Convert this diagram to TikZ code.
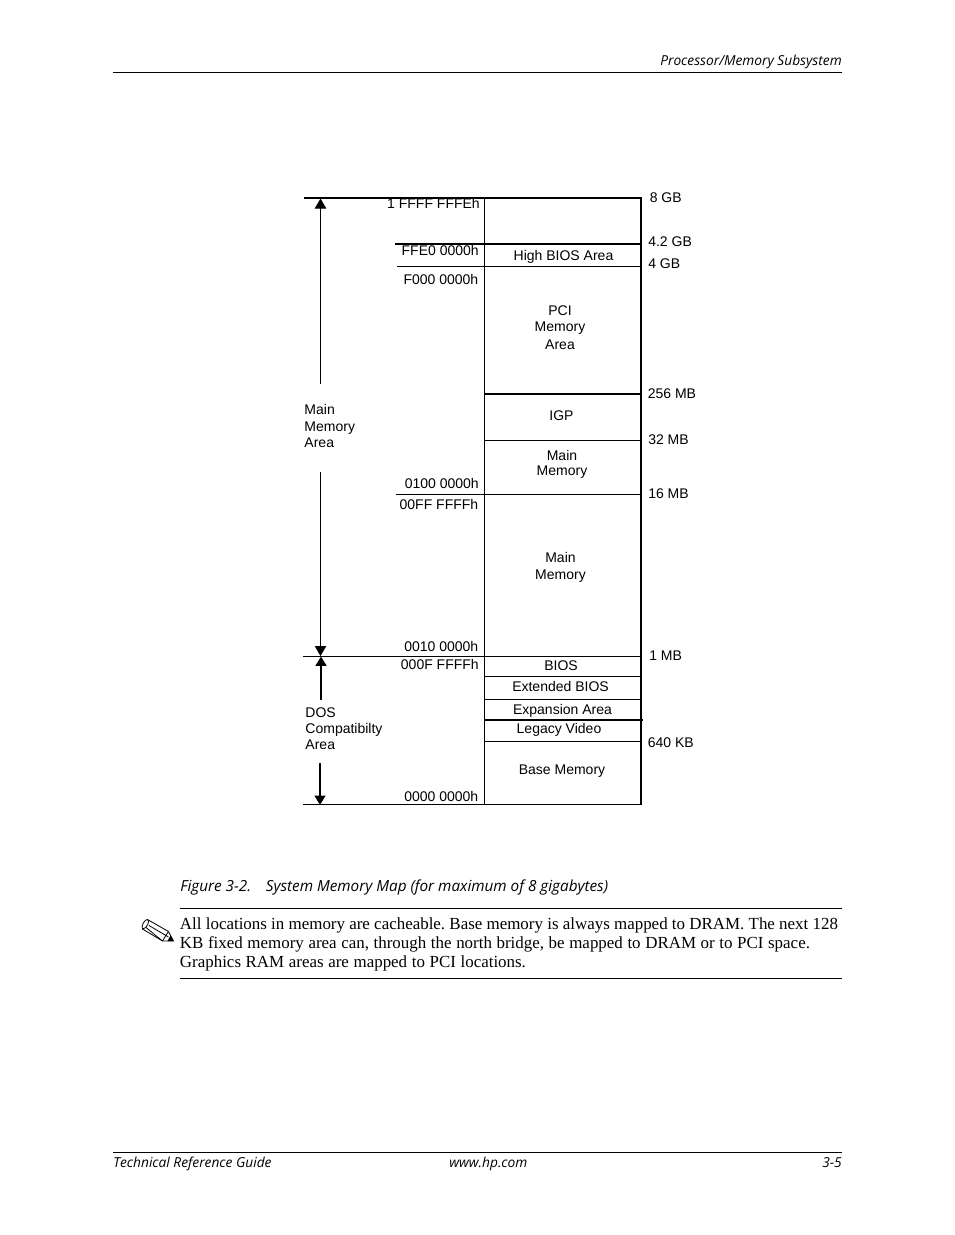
\documentclass[tikz,border=0pt]{standalone}
\usepackage{fontspec}
\setmainfont{Liberation Serif}
\setsansfont{Liberation Sans}
\newfontfamily\pagefont{Open Sans}
\usetikzlibrary{arrows.meta}
\begin{document}
\begin{tikzpicture}[x=0.75pt,y=-0.75pt,
  thinline/.style={line width=0.75pt,black},
  thickline/.style={line width=1.3pt,black},
  frameline/.style={line width=1.5pt,black},
  rule/.style={line width=0.7pt,black},
  pencil/.style={line width=0.6pt,black,line join=round},
  lab/.style={font=\sffamily\fontsize{10.5}{12}\selectfont,inner sep=0pt,align=center},
  lableft/.style={font=\sffamily\fontsize{10.5}{12}\selectfont,inner sep=0pt,align=left,anchor=west},
  addr/.style={font=\sffamily\fontsize{10.5}{12}\selectfont,inner sep=0pt,anchor=base east},
  size/.style={font=\sffamily\fontsize{10.5}{12}\selectfont,inner sep=0pt,anchor=base west},
  pagetext/.style={font=\pagefont\itshape\fontsize{10.3}{12}\selectfont,inner sep=0pt,anchor=base west},
  bodytext/.style={font=\rmfamily\fontsize{12.7}{14.3}\selectfont,inner sep=0pt,anchor=north west,align=left},
  thinarrow/.style={line width=0.75pt,-{Triangle[length=7.5pt,width=8.5pt]}},
  thickarrow/.style={line width=1.5pt,-{Triangle[length=7pt,width=8pt]}}]
\useasboundingbox (0,0) rectangle (954,1235);
\fill[white] (0,0) rectangle (954,1235);

% page furniture
\coordinate (hl) at (113,72); \coordinate (hr) at (842,72);
\coordinate (fl) at (113,1152); \coordinate (fr) at (842,1152);
\coordinate (c1l) at (180,908.5); \coordinate (c1r) at (842,908.5);
\coordinate (c2l) at (180,978.5); \coordinate (c2r) at (842,978.5);
\draw[rule] (hl) -- (hr);
\draw[rule] (fl) -- (fr);
\draw[rule] (c1l) -- (c1r);
\draw[rule] (c2l) -- (c2r);
\node[pagetext,anchor=base east] (header) at (842,65) {Processor/Memory Subsystem};
\node[pagetext] (footl) at (113,1167) {Technical Reference Guide};
\node[pagetext] (footm) at (449,1167) {www.hp.com};
\node[pagetext,anchor=base east] (footr) at (842,1167) {3-5};
\node[pagetext,font=\pagefont\itshape\fontsize{11.45}{13}\selectfont] (caption) at (180,891) {Figure 3-2.\hspace{11pt}System Memory Map (for maximum of 8 gigabytes)};
% note pencil
\draw[pencil] (147.5,919.5) -- (168.5,931.5) -- (173.5,941) -- (162.5,941) -- (142.5,929)
  .. controls (140.5,926) and (145,919) .. (147.5,919.5) -- cycle;
\draw[pencil] (147.5,919.5) .. controls (150.5,921) and (146.5,929) .. (142.5,929);
\draw[pencil] (149,925.5) -- (168.5,937) (146,927.5) -- (162.5,941) (168.5,931.5) -- (162.5,941);
\fill[black] (170.5,935.5) -- (173.5,941) -- (167.5,941) -- cycle;
\node[bodytext] (note) at (179.7,917.5) {\frenchspacing\makebox[493.5pt][s]{All locations in memory are cacheable. Base memory is always mapped to DRAM. The next 128}\\
\frenchspacing\makebox[472.5pt][s]{KB fixed memory area can, through the north bridge, be mapped to DRAM or to PCI space.}\\
\frenchspacing\makebox[259.5pt][s]{Graphics RAM areas are mapped to PCI locations.}};

% frame
\coordinate (midtop) at (484.5,197); \coordinate (midbot) at (484.5,804);
\coordinate (rtop) at (640.7,197); \coordinate (rbot) at (640.7,804.5);
\draw[thinline] (midtop) -- (midbot);
\draw[frameline] (rtop) -- (rbot);

% horizontal boundaries
\coordinate (a1) at (304,197.6); \coordinate (a2) at (641,197.6);
\coordinate (b1) at (395,243.7); \coordinate (b2) at (642,243.7);
\coordinate (c1) at (397,266.5); \coordinate (c2) at (641,266.5);
\coordinate (d1) at (484,394); \coordinate (d2) at (642,394);
\coordinate (e1) at (484,440.5); \coordinate (e2) at (640,440.5);
\coordinate (f1) at (396,494.5); \coordinate (f2) at (640,494.5);
\coordinate (g1) at (303,656.5); \coordinate (g2) at (642,656.5);
\coordinate (h1) at (484,676.5); \coordinate (h2) at (642,676.5);
\coordinate (i1) at (484,699.5); \coordinate (i2) at (640,699.5);
\coordinate (j1) at (484,720); \coordinate (j2) at (643,720);
\coordinate (k1) at (484,741.5); \coordinate (k2) at (640,741.5);
\coordinate (l1) at (303,804.3); \coordinate (l2) at (642,804.3);
\draw[frameline] (a1) -- (a2);
\draw[thickline] (b1) -- (b2);
\draw[thinline] (c1) -- (c2);
\draw[thickline] (d1) -- (d2);
\draw[thinline] (e1) -- (e2);
\draw[thinline] (f1) -- (f2);
\draw[thinline] (g1) -- (g2);
\draw[thinline] (h1) -- (h2);
\draw[thinline] (i1) -- (i2);
\draw[thickline] (j1) -- (j2);
\draw[thinline] (k1) -- (k2);
\draw[thinline] (l1) -- (l2);

% left side labels and arrows
\node[lableft] (mainarea) at (304.2,426) {Main\\[0.4pt]Memory\\[0.2pt]Area};
\node[lableft] (dosarea) at (305.2,729) {DOS\\Compatibilty\\Area};
\coordinate (u1) at (320.5,384); \coordinate (u2) at (320.5,198.5);
\coordinate (v1) at (320.5,472); \coordinate (v2) at (320.5,656);
\coordinate (w1) at (321,700); \coordinate (w2) at (321,656.5);
\coordinate (z1) at (320,763); \coordinate (z2) at (320,805);
\draw[thinarrow] (u1) -- (u2);
\draw[thinarrow] (v1) -- (v2);
\draw[thickarrow] (w1) -- (w2);
\draw[thickarrow] (z1) -- (z2);

% addresses
\node[addr] (ad1) at (480,208) {1 FFFF FFFEh};
\node[addr] (ad2) at (479,255) {FFE0 0000h};
\node[addr] (ad3) at (478.5,284) {F000 0000h};
\node[addr] (ad4) at (479,488) {0100 0000h};
\node[addr] (ad5) at (478.5,509) {00FF FFFFh};
\node[addr] (ad6) at (478.5,651) {0010 0000h};
\node[addr] (ad7) at (479,669) {000F FFFFh};
\node[addr] (ad8) at (478.5,801) {0000 0000h};

% regions
\node[lab] (r1) at (563.5,256.7) {High BIOS Area};
\node[lab] (r2) at (560,327.5) {PCI\\[0.1pt]Memory\\[1.5pt]Area};
\node[lab] (r3) at (561.5,416) {IGP};
\node[lab] (r4) at (562,464.3) {Main\\[-0.4pt]Memory};
\node[lab] (r5) at (560.5,567) {Main\\[0.8pt]Memory};
\node[lab] (r6) at (561,665.5) {BIOS};
\node[lab] (r7) at (560.5,686.5) {Extended BIOS};
\node[lab] (r8) at (562.5,710.5) {Expansion Area};
\node[lab] (r9) at (559,730) {Legacy Video};
\node[lab] (r10) at (562,771.5) {Base Memory};

% sizes
\node[size] (s1) at (649.5,202) {8 GB};
\node[size] (s2) at (648,246) {4.2 GB};
\node[size] (s3) at (648,268) {4 GB};
\node[size] (s4) at (647.5,398) {256 MB};
\node[size] (s5) at (648,444) {32 MB};
\node[size] (s6) at (648,498) {16 MB};
\node[size] (s7) at (649,660) {1 MB};
\node[size] (s8) at (647.5,747) {640 KB};
\end{tikzpicture}
\end{document}
